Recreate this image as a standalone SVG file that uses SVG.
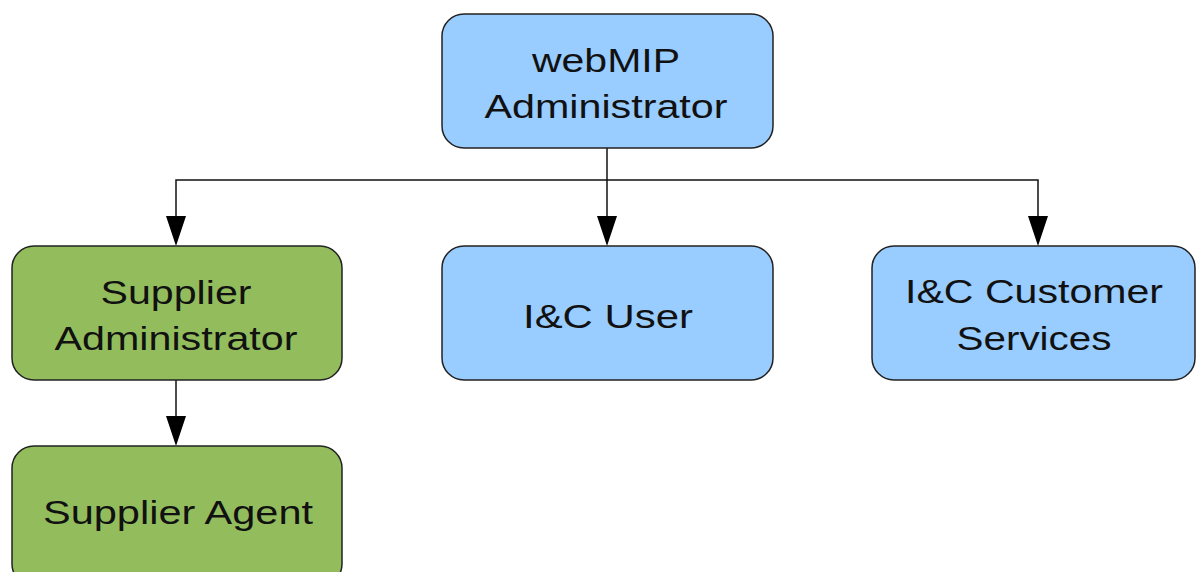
<svg xmlns="http://www.w3.org/2000/svg" width="1196" height="572" viewBox="0 0 1196 572">
<style>
.box{stroke:#222;stroke-width:1.5}
.blue{fill:#99ccff}
.green{fill:#93bd5d}
.t{font-family:"Liberation Sans",Arial,sans-serif;font-size:34px;fill:#111;text-anchor:middle}
.c{fill:none;stroke:#111;stroke-width:1.5}
</style>
<defs>
<marker id="ah" markerUnits="userSpaceOnUse" markerWidth="20" markerHeight="30" viewBox="0 0 20 30" refX="10" refY="30" orient="auto-start-reverse">
<path d="M0,0 L20,0 L10,30 Z" fill="#000" transform="rotate(0)"/>
</marker>
</defs>
<rect width="1196" height="572" fill="#fff"/>
<g id="connectors">
<path class="c" d="M607,148 V216"/>
<path d="M597,216 L617,216 L607,246 Z" fill="#000"/>
<path class="c" d="M176,216 V180 H1038 V216"/>
<path d="M166,216 L186,216 L176,246 Z" fill="#000"/>
<path d="M1028,216 L1048,216 L1038,246 Z" fill="#000"/>
<path class="c" d="M176,380 V416"/>
<path d="M166,416 L186,416 L176,446 Z" fill="#000"/>
</g>
<g id="webmip-admin">
<rect class="box blue" x="442" y="14" width="331" height="134" rx="22"/>
<text class="t" x="606" y="72" textLength="148" lengthAdjust="spacingAndGlyphs">webMIP</text>
<text class="t" x="606" y="118" textLength="243" lengthAdjust="spacingAndGlyphs">Administrator</text>
</g>
<g id="supplier-admin">
<rect class="box green" x="12" y="246" width="330" height="134" rx="22"/>
<text class="t" x="176" y="304" textLength="151" lengthAdjust="spacingAndGlyphs">Supplier</text>
<text class="t" x="176" y="350" textLength="243" lengthAdjust="spacingAndGlyphs">Administrator</text>
</g>
<g id="ic-user">
<rect class="box blue" x="442" y="246" width="331" height="134" rx="22"/>
<text class="t" x="608" y="328" textLength="170" lengthAdjust="spacingAndGlyphs">I&amp;C User</text>
</g>
<g id="ic-customer-services">
<rect class="box blue" x="872" y="246" width="323" height="134" rx="22"/>
<text class="t" x="1034" y="303" textLength="258" lengthAdjust="spacingAndGlyphs">I&amp;C Customer</text>
<text class="t" x="1034" y="350" textLength="155" lengthAdjust="spacingAndGlyphs">Services</text>
</g>
<g id="supplier-agent">
<rect class="box green" x="12" y="446" width="330" height="140" rx="22"/>
<text class="t" x="178" y="524" textLength="270" lengthAdjust="spacingAndGlyphs">Supplier Agent</text>
</g>
</svg>
